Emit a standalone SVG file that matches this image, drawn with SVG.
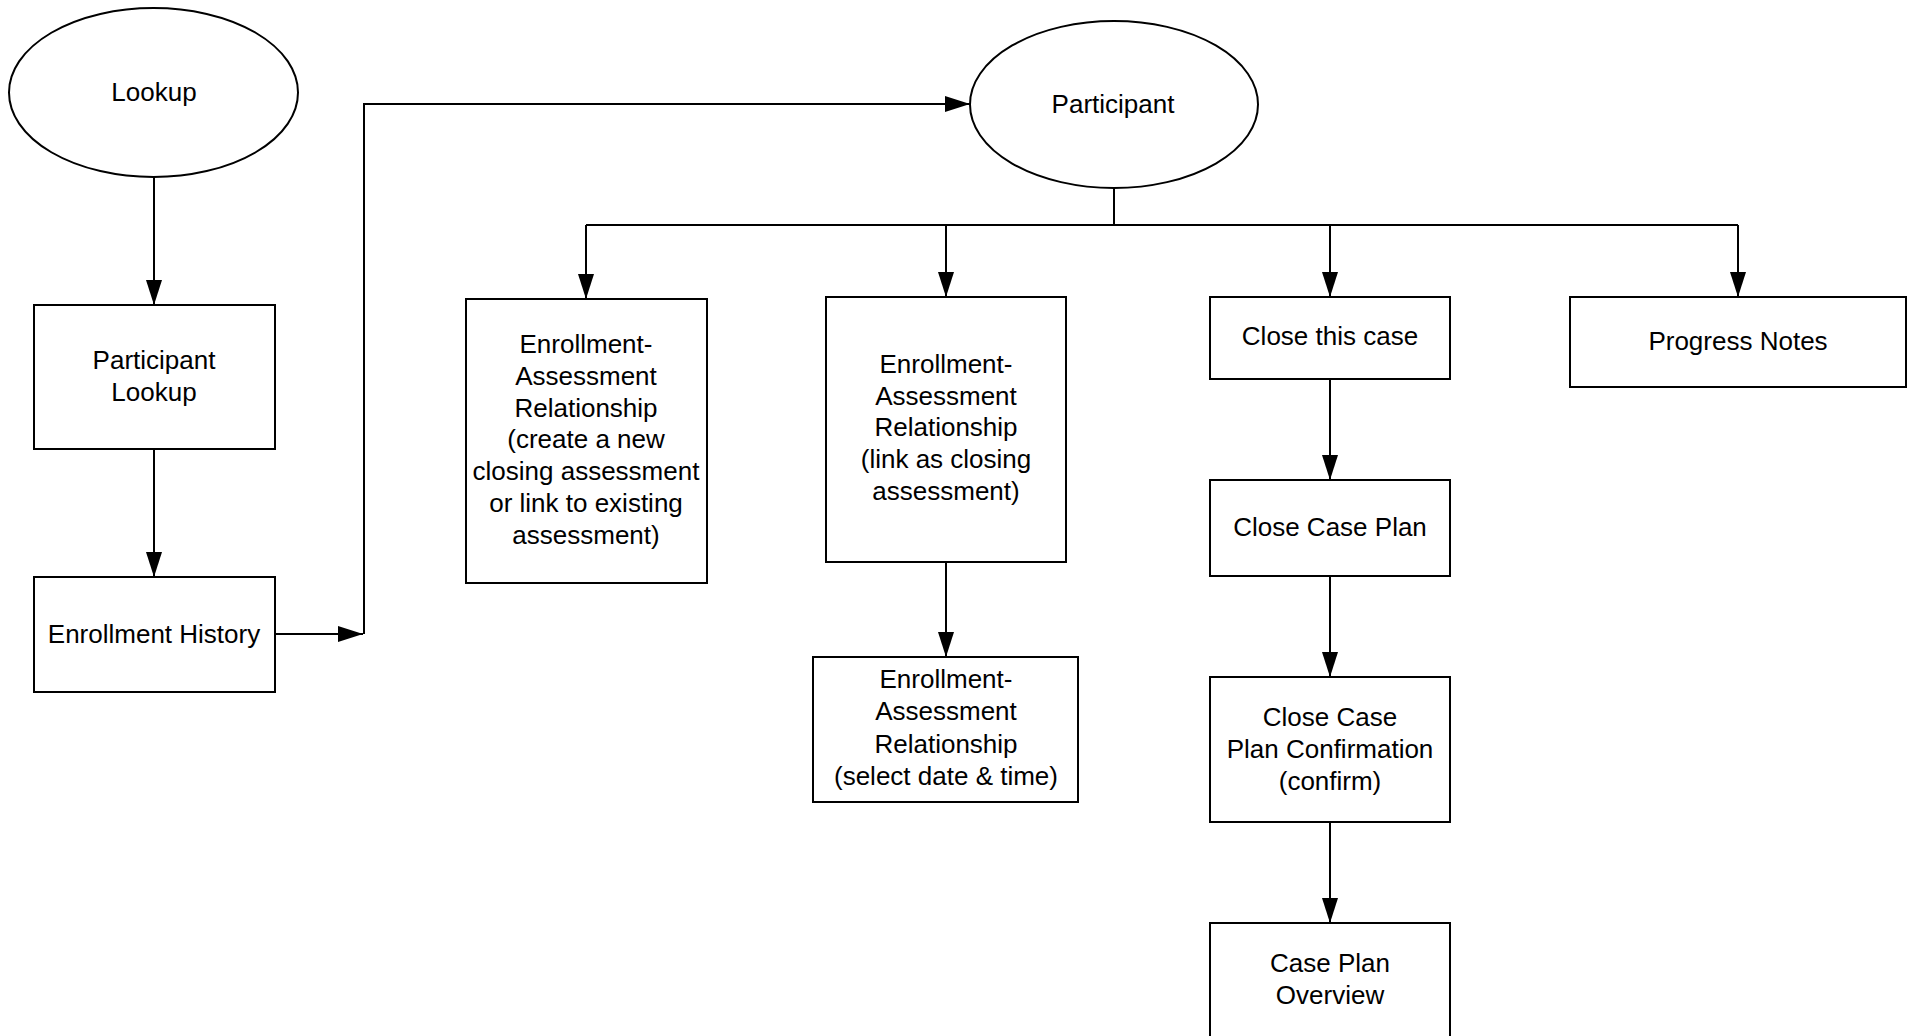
<svg xmlns="http://www.w3.org/2000/svg" width="1910" height="1036" viewBox="0 0 1910 1036">
<style>
.shape{fill:#fff;stroke:#000;stroke-width:2}
.lbl{font-family:"Liberation Sans",Arial,sans-serif;font-size:26px;fill:#000;text-anchor:middle}
.conn{fill:none;stroke:#000;stroke-width:2}
</style>
<defs>
<marker id="arr" markerUnits="userSpaceOnUse" markerWidth="26" markerHeight="16" refX="25" refY="8" orient="auto">
<path d="M0,0 L25,8 L0,16 z" fill="#000"/>
</marker>
</defs>
<rect width="1910" height="1036" fill="#fff"/>
<g id="connectors">
<line class="conn" x1="154" y1="177" x2="154" y2="305" marker-end="url(#arr)"/>
<line class="conn" x1="154" y1="449" x2="154" y2="577" marker-end="url(#arr)"/>
<line class="conn" x1="275" y1="634" x2="363" y2="634" marker-end="url(#arr)"/>
<polyline class="conn" points="364,634 364,104 970,104" marker-end="url(#arr)"/>
<line class="conn" x1="1114" y1="188" x2="1114" y2="225"/>
<line class="conn" x1="586" y1="225" x2="1738" y2="225"/>
<line class="conn" x1="586" y1="225" x2="586" y2="299" marker-end="url(#arr)"/>
<line class="conn" x1="946" y1="225" x2="946" y2="297" marker-end="url(#arr)"/>
<line class="conn" x1="1330" y1="225" x2="1330" y2="297" marker-end="url(#arr)"/>
<line class="conn" x1="1738" y1="225" x2="1738" y2="297" marker-end="url(#arr)"/>
<line class="conn" x1="946" y1="562" x2="946" y2="657" marker-end="url(#arr)"/>
<line class="conn" x1="1330" y1="379" x2="1330" y2="480" marker-end="url(#arr)"/>
<line class="conn" x1="1330" y1="576" x2="1330" y2="677" marker-end="url(#arr)"/>
<line class="conn" x1="1330" y1="822" x2="1330" y2="923" marker-end="url(#arr)"/>
</g>
<g id="lookup">
<ellipse class="shape" cx="153.5" cy="92.5" rx="144.5" ry="84.5"/>
<text class="lbl" x="154" y="101">Lookup</text>
</g>
<g id="participant-lookup">
<rect class="shape" x="34" y="305" width="241" height="144"/>
<text class="lbl" x="154" y="369">Participant<tspan x="154" dy="31.7">Lookup</tspan></text>
</g>
<g id="enrollment-history">
<rect class="shape" x="34" y="577" width="241" height="115"/>
<text class="lbl" x="154" y="643">Enrollment History</text>
</g>
<g id="participant">
<ellipse class="shape" cx="1114" cy="104.5" rx="144" ry="83.5"/>
<text class="lbl" x="1113" y="113">Participant</text>
</g>
<g id="ea-create">
<rect class="shape" x="466" y="299" width="241" height="284"/>
<text class="lbl" x="586" y="353">Enrollment-<tspan x="586" dy="31.8">Assessment</tspan><tspan x="586" dy="31.8">Relationship</tspan><tspan x="586" dy="31.8">(create a new</tspan><tspan x="586" dy="31.8">closing assessment</tspan><tspan x="586" dy="31.8">or link to existing</tspan><tspan x="586" dy="31.8">assessment)</tspan></text>
</g>
<g id="ea-link">
<rect class="shape" x="826" y="297" width="240" height="265"/>
<text class="lbl" x="946" y="373">Enrollment-<tspan x="946" dy="31.7">Assessment</tspan><tspan x="946" dy="31.7">Relationship</tspan><tspan x="946" dy="31.7">(link as closing</tspan><tspan x="946" dy="31.7">assessment)</tspan></text>
</g>
<g id="ea-select">
<rect class="shape" x="813" y="657" width="265" height="145"/>
<text class="lbl" x="946" y="688">Enrollment-<tspan x="946" dy="32.3">Assessment</tspan><tspan x="946" dy="32.3">Relationship</tspan><tspan x="946" dy="32.3">(select date &amp; time)</tspan></text>
</g>
<g id="close-this-case">
<rect class="shape" x="1210" y="297" width="240" height="82"/>
<text class="lbl" x="1330" y="345">Close this case</text>
</g>
<g id="progress-notes">
<rect class="shape" x="1570" y="297" width="336" height="90"/>
<text class="lbl" x="1738" y="350">Progress Notes</text>
</g>
<g id="close-case-plan">
<rect class="shape" x="1210" y="480" width="240" height="96"/>
<text class="lbl" x="1330" y="536">Close Case Plan</text>
</g>
<g id="close-case-plan-confirmation">
<rect class="shape" x="1210" y="677" width="240" height="145"/>
<text class="lbl" x="1330" y="726">Close Case<tspan x="1330" dy="32">Plan Confirmation</tspan><tspan x="1330" dy="32">(confirm)</tspan></text>
</g>
<g id="case-plan-overview">
<rect class="shape" x="1210" y="923" width="240" height="145"/>
<text class="lbl" x="1330" y="972">Case Plan<tspan x="1330" dy="31.7">Overview</tspan></text>
</g>
</svg>
